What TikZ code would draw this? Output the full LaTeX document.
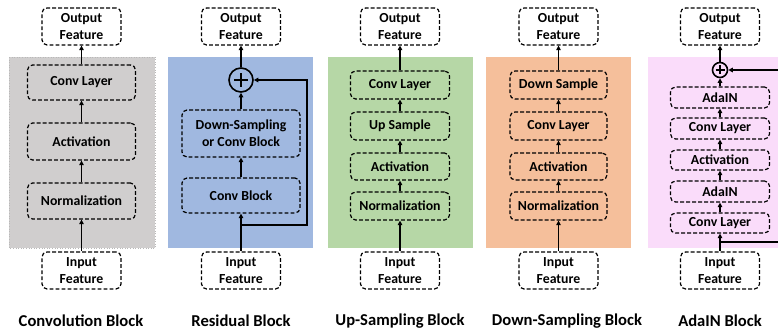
\documentclass[tikz,border=0pt]{standalone}
\usepackage{fontspec}
\setmainfont{Carlito}
\usetikzlibrary{arrows.meta}
\definecolor{bggray}{RGB}{208,206,206}
\definecolor{bgblue}{RGB}{160,184,224}
\definecolor{bggreen}{RGB}{182,215,166}
\definecolor{bgorange}{RGB}{245,191,155}
\definecolor{bgpink}{RGB}{250,220,250}
\tikzset{
  box/.style={draw=black, line width=1.2pt, dash pattern=on 3.8pt off 2.2pt,
    rounded corners=5pt, align=center, inner sep=0pt,
    font=\fontsize{13.8}{17}\selectfont\bfseries},
  arr/.style={-{Triangle[length=4.5pt,width=4.5pt]}, line width=1.2pt},
  lnk/.style={line width=1.2pt},
  title/.style={font=\fontsize{16.6}{19}\selectfont\bfseries},
  feat/.style={box, minimum width=79pt, minimum height=37pt},
  sumnode/.style={circle, draw=black, line width=1.6pt, inner sep=0pt},
}
\begin{document}
\begin{tikzpicture}[x=1pt,y=-1pt]
\useasboundingbox (0,0) rectangle (778,331);
% backgrounds
\fill[bggray] (9,57) rectangle (155,248);
\draw[gray!55, dotted, line width=0.6pt] (9,57) rectangle (155,248);
\fill[bgblue] (168,57) rectangle (313,248);
\fill[bggreen] (328,57) rectangle (473,248);
\fill[bgorange] (486,57) rectangle (631,248);
\fill[bgpink] (648,57) rectangle (778,248);

% ---------- Convolution Block ----------
\node[feat] (o1) at (81.5,26.5) {Output\\Feature};
\node[feat] (i1) at (81.5,270.5) {Input\\Feature};
\node[box, minimum width=108pt, minimum height=35pt] (c1) at (81.5,82.5) {Conv Layer};
\node[box, minimum width=108pt, minimum height=37pt] (a1) at (81.5,141.5) {Activation};
\node[box, minimum width=108pt, minimum height=36pt] (n1) at (81.5,201) {Normalization};
\draw[arr] (i1) -- (n1);
\draw[arr] (n1) -- (a1);
\draw[arr] (a1) -- (c1);
\draw[arr] (c1) -- (o1);
\node[title] (t1) at (81,321) {Convolution Block};

% ---------- Residual Block ----------
\node[feat] (o2) at (241,26.5) {Output\\Feature};
\node[feat] (i2) at (241,270.5) {Input\\Feature};
\node[sumnode, minimum size=24pt] (p2) at (241,80) {};
\draw[line width=2.6pt] ([xshift=-7pt]p2.center) -- ([xshift=7pt]p2.center);
\draw[line width=2.6pt] ([yshift=-7pt]p2.center) -- ([yshift=7pt]p2.center);
\node[box, minimum width=118pt, minimum height=47pt] (d2) at (241,133.5) {Down-Sampling\\or Conv Block};
\node[box, minimum width=118pt, minimum height=35pt] (cb2) at (241,195.5) {Conv Block};
\coordinate (s2) at (241,225);
\coordinate (s2r) at (307,225);
\coordinate (s2t) at (307,80);
\draw[arr] (i2) -- (cb2);
\draw[arr] (cb2) -- (d2);
\draw[arr] (d2) -- (p2);
\draw[arr] (p2) -- (o2);
\draw[arr] (s2) -- (s2r) -- (s2t) -- (p2);
\node[title] (t2) at (241,321) {Residual Block};

% ---------- Up-Sampling Block ----------
\node[feat] (o3) at (400,26.5) {Output\\Feature};
\node[feat] (i3) at (400,270.5) {Input\\Feature};
\node[box, minimum width=99pt, minimum height=28pt] (c3) at (400,85) {Conv Layer};
\node[box, minimum width=99pt, minimum height=28pt] (u3) at (400,126) {Up Sample};
\node[box, minimum width=99pt, minimum height=27pt] (a3) at (400,166.5) {Activation};
\node[box, minimum width=99pt, minimum height=28pt] (n3) at (400,206) {Normalization};
\draw[arr] (i3) -- (n3);
\draw[arr] (n3) -- (a3);
\draw[arr] (a3) -- (u3);
\draw[arr] (u3) -- (c3);
\draw[arr] (c3) -- (o3);
\node[title] (t3) at (400,321) {Up-Sampling Block};

% ---------- Down-Sampling Block ----------
\node[feat] (o4) at (558.5,26.5) {Output\\Feature};
\node[feat] (i4) at (558.5,270.5) {Input\\Feature};
\node[box, minimum width=97pt, minimum height=28pt] (d4) at (558.5,85) {Down Sample};
\node[box, minimum width=97pt, minimum height=28pt] (c4) at (558.5,126) {Conv Layer};
\node[box, minimum width=97pt, minimum height=27pt] (a4) at (558.5,166.5) {Activation};
\node[box, minimum width=97pt, minimum height=28pt] (n4) at (558.5,206) {Normalization};
\draw[arr] (i4) -- (n4);
\draw[arr] (n4) -- (a4);
\draw[arr] (a4) -- (c4);
\draw[arr] (c4) -- (d4);
\draw[arr] (d4) -- (o4);
\node[title] (t4) at (567,321) {Down-Sampling Block};

% ---------- AdaIN Block ----------
\node[feat] (o5) at (720,26.5) {Output\\Feature};
\node[feat] (i5) at (720,270.5) {Input\\Feature};
\node[sumnode, minimum size=15pt] (p5) at (720,70) {};
\draw[line width=1.9pt] ([xshift=-4.5pt]p5.center) -- ([xshift=4.5pt]p5.center);
\draw[line width=1.9pt] ([yshift=-4.5pt]p5.center) -- ([yshift=4.5pt]p5.center);
\node[box, minimum width=99pt, minimum height=21pt] (ad5) at (720,97.5) {AdaIN};
\node[box, minimum width=99pt, minimum height=21pt] (cv5) at (720,128.5) {Conv Layer};
\node[box, minimum width=99pt, minimum height=20pt] (ac5) at (720,160) {Activation};
\node[box, minimum width=99pt, minimum height=21pt] (ae5) at (720,191.5) {AdaIN};
\node[box, minimum width=99pt, minimum height=20pt] (cw5) at (720,223) {Conv Layer};
\coordinate (s5) at (720,242);
\coordinate (s5r) at (778,242);
\coordinate (s5t) at (778,70);
\draw[arr] (i5) -- (cw5);
\draw[arr] (cw5) -- (ae5);
\draw[arr] (ae5) -- (ac5);
\draw[arr] (ac5) -- (cv5);
\draw[arr] (cv5) -- (ad5);
\draw[arr] (ad5) -- (p5);
\draw[arr] (p5) -- (o5);
\draw[lnk] (s5) -- (s5r);
\draw[arr] (s5t) -- (p5);
\node[title] (t5) at (720,321) {AdaIN Block};
\end{tikzpicture}
\end{document}
